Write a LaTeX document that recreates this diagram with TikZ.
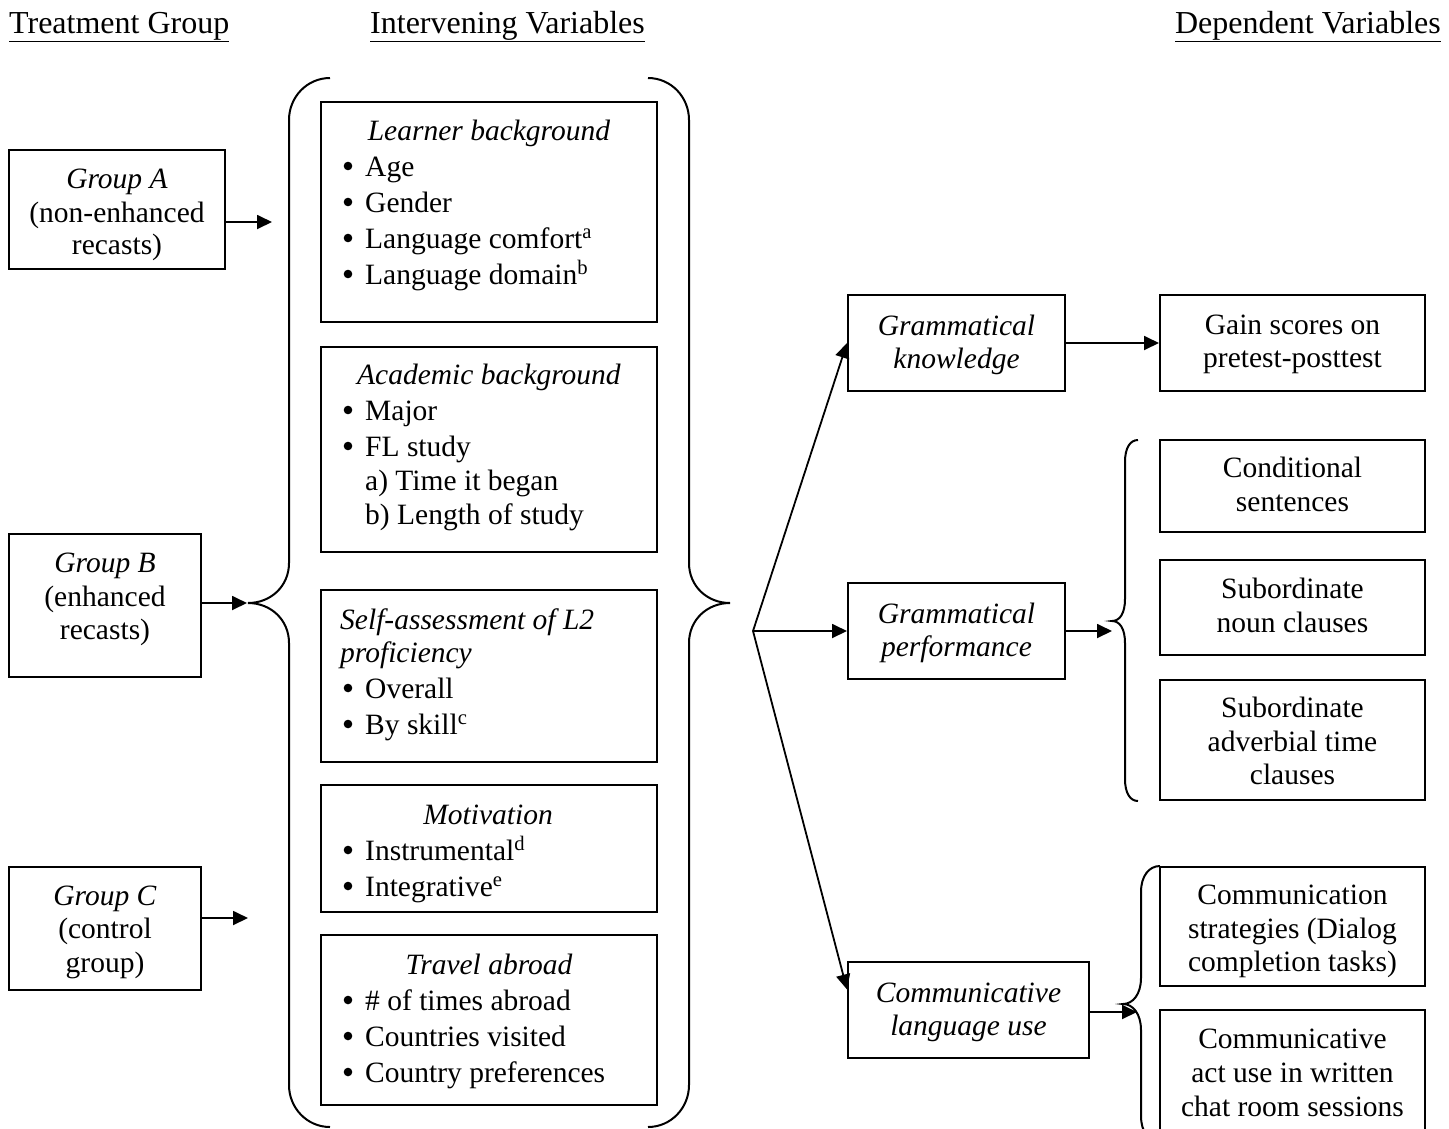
\documentclass[tikz,border=0pt]{standalone}
\usepackage{fontspec}
\setmainfont{Liberation Serif}
\usetikzlibrary{arrows.meta,calc}
\begin{document}
\begin{tikzpicture}[x=1pt,y=-1pt,
  font=\fontsize{29.5}{34}\selectfont,
  bx/.style 2 args={draw,line width=2pt,inner sep=0pt,minimum width=#1,minimum height=#2},
  txt/.style={anchor=base,inner sep=0pt},
  lft/.style={anchor=base west,inner sep=0pt},
  ttl/.style={inner sep=0pt,font=\fontsize{32}{36}\selectfont},
  arr/.style={line width=1.8pt,-{Triangle[length=15pt,width=14pt]}},
  brc/.style={line width=2pt}]
\useasboundingbox (0,0) rectangle (1449,1128);
\clip (0,0) rectangle (1449,1128);
% titles
\node[ttl,anchor=base west] (t1) at (9,33) {\underline{Treatment Group}};
\node[ttl,anchor=base west] (t2) at (370,33) {\underline{Intervening Variables}};
\node[ttl,anchor=base east] (t3) at (1441,33) {\underline{Dependent Variables}};
% group boxes
\node[bx={216pt}{119pt}] (gA) at (117,209.5) {};
\node[txt] (gA1) at (117,188) {\textit{Group A}};
\node[txt] (gA2) at (117,222) {(non-enhanced};
\node[txt] (gA3) at (117,254) {recasts)};
\node[bx={192pt}{143pt}] (gB) at (105,605.5) {};
\node[txt] (gB1) at (105,572) {\textit{Group B}};
\node[txt] (gB2) at (105,606) {(enhanced};
\node[txt] (gB3) at (105,639) {recasts)};
\node[bx={192pt}{123pt}] (gC) at (105,928.5) {};
\node[txt] (gC1) at (105,905) {\textit{Group C}};
\node[txt] (gC2) at (105,938) {(control};
\node[txt] (gC3) at (105,972) {group)};
% intervening boxes
\node[bx={336pt}{220pt}] (lb) at (489,212) {};
\node[txt] (lb0) at (489,140) {\textit{Learner background}};
\node[lft] (lb1) at (365,176) {Age};
\node[lft] (lb2) at (365,212) {Gender};
\node[lft] (lb3) at (365,248) {Language comfort\textsuperscript{a}};
\node[lft] (lb4) at (365,284) {Language domain\textsuperscript{b}};
\node[bx={336pt}{205pt}] (ab) at (489,449.5) {};
\node[txt] (ab0) at (489,384) {\textit{Academic background}};
\node[lft] (ab1) at (365,420) {Major};
\node[lft] (ab2) at (365,456) {FL study};
\node[lft] (ab3) at (365,490) {a) Time it began};
\node[lft] (ab4) at (365,524) {b) Length of study};
\node[bx={336pt}{172pt}] (sa) at (489,676) {};
\node[lft] (sa0) at (340,629) {\textit{Self-assessment of L2}};
\node[lft] (sa1) at (340,662) {\textit{proficiency}};
\node[lft] (sa2) at (365,698) {Overall};
\node[lft] (sa3) at (365,734) {By skill\textsuperscript{c}};
\node[bx={336pt}{127pt}] (mo) at (489,848.5) {};
\node[txt] (mo0) at (488,824) {\textit{Motivation}};
\node[lft] (mo1) at (365,860) {Instrumental\textsuperscript{d}};
\node[lft] (mo2) at (365,896) {Integrative\textsuperscript{e}};
\node[bx={336pt}{170pt}] (ta) at (489,1020) {};
\node[txt] (ta0) at (489,974) {\textit{Travel abroad}};
\node[lft] (ta1) at (365,1010) {\# of times abroad};
\node[lft] (ta2) at (365,1046) {Countries visited};
\node[lft] (ta3) at (365,1082) {Country preferences};
% bullets
\foreach \yy in {176,212,248,284,420,456,698,734,860,896,1010,1046,1082}
  \fill (348,\yy-10) circle (4.3);
% dependent boxes
\node[bx={217pt}{96pt}] (gk) at (956.5,343) {};
\node[txt] (gk1) at (956.5,335) {\textit{Grammatical}};
\node[txt] (gk2) at (956.5,368) {\textit{knowledge}};
\node[bx={217pt}{96pt}] (gp) at (956.5,631) {};
\node[txt] (gp1) at (956.5,623) {\textit{Grammatical}};
\node[txt] (gp2) at (956.5,656) {\textit{performance}};
\node[bx={241pt}{96pt}] (cl) at (968.5,1010) {};
\node[txt] (cl1) at (968.5,1002) {\textit{Communicative}};
\node[txt] (cl2) at (968.5,1035) {\textit{language use}};
\node[bx={265pt}{96pt}] (gs) at (1292.5,343) {};
\node[txt] (gs1) at (1292.5,334) {Gain scores on};
\node[txt] (gs2) at (1292.5,367) {pretest-posttest};
\node[bx={265pt}{92pt}] (cs) at (1292.5,486) {};
\node[txt] (cs1) at (1292.5,477) {Conditional};
\node[txt] (cs2) at (1292.5,511) {sentences};
\node[bx={265pt}{95pt}] (sn) at (1292.5,607.5) {};
\node[txt] (sn1) at (1292.5,598) {Subordinate};
\node[txt] (sn2) at (1292.5,632) {noun clauses};
\node[bx={265pt}{120pt}] (sv) at (1292.5,740) {};
\node[txt] (sv1) at (1292.5,717) {Subordinate};
\node[txt] (sv2) at (1292.5,751) {adverbial time};
\node[txt] (sv3) at (1292.5,784) {clauses};
\node[bx={265pt}{119pt}] (co) at (1292.5,926.5) {};
\node[txt] (co1) at (1292.5,904) {Communication};
\node[txt] (co2) at (1292.5,938) {strategies (Dialog};
\node[txt] (co3) at (1292.5,971) {completion tasks)};
\node[bx={265pt}{140pt}] (ca) at (1292.5,1080) {};
\node[txt] (ca1) at (1292.5,1048) {Communicative};
\node[txt] (ca2) at (1292.5,1082) {act use in written};
\node[txt] (ca3) at (1292.5,1116) {chat room sessions};
% braces
\draw[brc] (330,78) .. controls (307,78) and (289,97) .. (289,120) -- (289,563)
  .. controls (289,586) and (271,603) .. (248,603)
  .. controls (271,603) and (289,620) .. (289,643) -- (289,1085)
  .. controls (289,1108) and (307,1127) .. (330,1127);
\draw[brc] (648,78) .. controls (671,78) and (689,97) .. (689,120) -- (689,563)
  .. controls (689,586) and (707,603) .. (730,603)
  .. controls (707,603) and (689,620) .. (689,643) -- (689,1085)
  .. controls (689,1108) and (671,1127) .. (648,1127);
\draw[brc] (1138,440) .. controls (1130,440) and (1125,448) .. (1125,462) -- (1125,599)
  .. controls (1125,613) and (1120,621) .. (1112,621)
  .. controls (1120,621) and (1125,629) .. (1125,643) -- (1125,779)
  .. controls (1125,793) and (1130,801) .. (1138,801);
\draw[brc] (1160,866) .. controls (1149,866) and (1141,876) .. (1141,892) -- (1141,978)
  .. controls (1141,994) and (1133,1004) .. (1123,1004)
  .. controls (1133,1004) and (1141,1014) .. (1141,1030) -- (1141,1116)
  .. controls (1141,1132) and (1149,1142) .. (1160,1142);
% connectors
\coordinate (aA) at (272,222);
\coordinate (bt) at (247,603);
\coordinate (aC) at (248,918);
\coordinate (hub) at (753,631);
\coordinate (b2) at (1112,631);
\coordinate (b3) at (1137,1012);
\draw[arr] (gA.east |- aA) -- (aA);
\draw[arr] (gB.east |- bt) -- (bt);
\draw[arr] (gC.east |- aC) -- (aC);
\draw[arr] (hub) -- (gk.west);
\draw[arr] (hub) -- (gp.west);
\draw[arr] (hub) -- ($(cl.north west)!0.29!(cl.south west)$);
\draw[arr] (gk.east) -- (gs.west);
\draw[arr] (gp.east) -- (b2);
\draw[arr] (cl.east |- b3) -- (b3);
\end{tikzpicture}
\end{document}
